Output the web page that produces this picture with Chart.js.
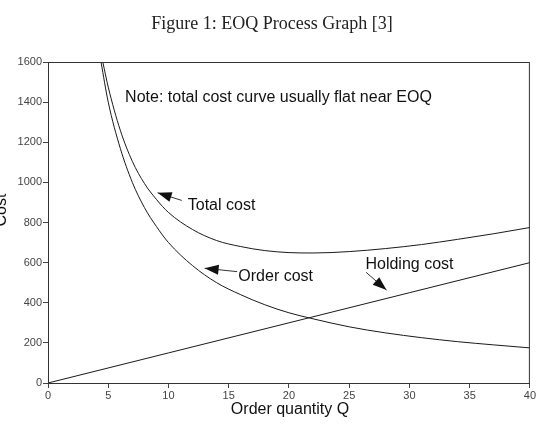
<!DOCTYPE html>
<html>
<head>
<meta charset="utf-8">
<script src="https://cdn.jsdelivr.net/npm/chart.js@4/dist/chart.umd.min.js"></script>
<style>
  html, body { margin: 0; padding: 0; background: #fff; }
  #wrap { width: 537px; height: 441px; }
</style>
</head>
<body>
<div id="wrap"><canvas id="eoqChart" width="537" height="441"></canvas></div>
<script>
// values
const orderQ = [4.4, 5, 6, 7, 8, 9, 10, 12, 14, 16, 18, 20, 22, 25, 28, 31, 34, 37, 40];
const orderCost = [1600, 1400, 1170, 1000, 875, 780, 700, 585, 500, 440, 390, 350, 320, 280, 250, 226, 206, 190, 175];
const totalQ = [4.55, 5, 6, 7, 8, 9, 10, 12, 14, 16, 18, 20, 22, 25, 28, 31, 34, 37, 40];
const totalCost = [1600, 1475, 1260, 1105, 995, 915, 850, 765, 710, 680, 660, 650, 648, 655, 670, 690, 716, 744, 775];
const holdingQ = [0, 10, 20, 30, 40];
const holdingCost = [0, 150, 300, 450, 600];

const xTicks = [0, 5, 10, 15, 20, 25, 30, 35, 40];
const yTicks = [0, 200, 400, 600, 800, 1000, 1200, 1400, 1600];

// labels with arrows, in data units (Q, cost)
const labels = [
    { text: 'Total cost', at: [11.6, 885], from: [11.1, 910], to: [9.1, 948] },
    { text: 'Order cost', at: [15.8, 532], from: [15.7, 555], to: [13.0, 572] },
    { text: 'Holding cost', at: [26.35, 588], from: [26.4, 552], to: [28.1, 463] }
];
const noteText = 'Note: total cost curve usually flat near EOQ';
const noteAt = [6.4, 1421];

function toPoints(xs, ys) {
    return xs.map((x, i) => ({ x: x, y: ys[i] }));
}

const lineStyle = {
    borderColor: '#1a1a1a',
    borderWidth: 1,
    pointRadius: 0,
    fill: false,
    showLine: true,
    cubicInterpolationMode: 'monotone'
};

const sans = '"Liberation Sans", Arial, sans-serif';

const decorPlugin = {
    id: 'decor',
    afterDraw(chart) {
        const ctx = chart.ctx;
        const a = chart.chartArea;
        const xs = chart.scales.x;
        const ys = chart.scales.y;
        ctx.save();

        // frame
        ctx.strokeStyle = '#333';
        ctx.lineWidth = 1;
        ctx.strokeRect(a.left + 0.5, a.top + 0.5, a.right - a.left - 1, a.bottom - a.top);

        // title
        ctx.fillStyle = '#222';
        ctx.font = '18px "Liberation Serif", serif';
        ctx.textAlign = 'center';
        ctx.textBaseline = 'middle';
        ctx.fillText('Figure 1: EOQ Process Graph [3]', 272, 24);

        // axis titles
        ctx.fillStyle = '#111';
        ctx.font = '16px ' + sans;
        ctx.fillText('Order quantity Q', 290, 410);
        ctx.save();
        ctx.translate(2, 210);
        ctx.rotate(-Math.PI / 2);
        ctx.fillText('Cost', 0, 0);
        ctx.restore();

        // note
        ctx.textAlign = 'left';
        ctx.fillText(noteText, xs.getPixelForValue(noteAt[0]), ys.getPixelForValue(noteAt[1]));

        // arrow labels
        labels.forEach(l => {
            ctx.fillStyle = '#111';
            ctx.fillText(l.text, xs.getPixelForValue(l.at[0]), ys.getPixelForValue(l.at[1]));
            const x1 = xs.getPixelForValue(l.from[0]), y1 = ys.getPixelForValue(l.from[1]);
            const x2 = xs.getPixelForValue(l.to[0]), y2 = ys.getPixelForValue(l.to[1]);
            const ang = Math.atan2(y2 - y1, x2 - x1);
            ctx.beginPath();
            ctx.moveTo(x1, y1);
            ctx.lineTo(x2, y2);
            ctx.stroke();
            const len = 14, w = 5;
            ctx.beginPath();
            ctx.moveTo(x2, y2);
            ctx.lineTo(x2 - len * Math.cos(ang) + w * Math.sin(ang), y2 - len * Math.sin(ang) - w * Math.cos(ang));
            ctx.lineTo(x2 - len * Math.cos(ang) - w * Math.sin(ang), y2 - len * Math.sin(ang) + w * Math.cos(ang));
            ctx.closePath();
            ctx.fill();
        });
        ctx.restore();
    }
};

const ctx = document.getElementById('eoqChart').getContext('2d');
new Chart(ctx, {
    type: 'scatter',
    data: {
        datasets: [
            { label: 'Total cost', data: toPoints(totalQ, totalCost), ...lineStyle },
            { label: 'Order cost', data: toPoints(orderQ, orderCost), ...lineStyle },
            { label: 'Holding cost', data: toPoints(holdingQ, holdingCost), ...lineStyle, cubicInterpolationMode: 'default', tension: 0 }
        ]
    },
    options: {
        responsive: false,
        animation: false,
        layout: { padding: { top: 62, right: 6, left: 0, bottom: 0 } },
        plugins: {
            legend: { display: false },
            tooltip: { enabled: false }
        },
        scales: {
            x: {
                type: 'linear',
                min: 0,
                max: 40,
                afterBuildTicks: s => { s.ticks = xTicks.map(v => ({ value: v })); },
                afterFit: s => { s.height = 58; },
                grid: { drawOnChartArea: false, tickLength: 5, color: '#444' },
                border: { color: '#333' },
                ticks: {
                    color: '#444',
                    padding: 1,
                    maxRotation: 0,
                    callback: v => String(v),
                    font: { family: sans, size: 11 }
                }
            },
            y: {
                min: 0,
                max: 1600,
                afterBuildTicks: s => { s.ticks = yTicks.map(v => ({ value: v })); },
                afterFit: s => { s.width = 48; },
                grid: { drawOnChartArea: false, tickLength: 5, color: '#444' },
                border: { color: '#333' },
                ticks: {
                    color: '#444',
                    padding: 1,
                    callback: v => String(v),
                    font: { family: sans, size: 11 }
                }
            }
        }
    },
    plugins: [decorPlugin]
});
</script>
</body>
</html>
